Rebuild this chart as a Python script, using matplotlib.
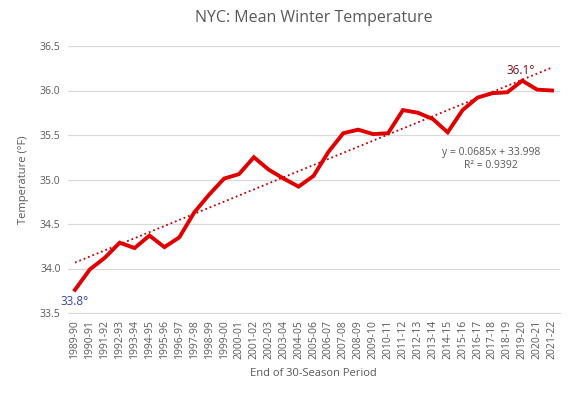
import matplotlib
matplotlib.use("Agg")
import matplotlib.pyplot as plt
import numpy as np

plt.rcParams['font.family'] = ['Open Sans', 'DejaVu Sans']

# seasons (end of 30-season period)
seasons = [f"{y}-{str(y + 1)[-2:]}" for y in range(1989, 2022)]
temps = [33.76, 33.99, 34.12, 34.29, 34.23, 34.37, 34.24, 34.35, 34.63, 34.83,
         35.01, 35.06, 35.25, 35.11, 35.01, 34.92, 35.04, 35.31, 35.52, 35.56,
         35.51, 35.52, 35.78, 35.75, 35.68, 35.53, 35.78, 35.92, 35.97, 35.98,
         36.11, 36.01, 36.00]
trend_slope = 0.0685
trend_icpt = 33.998
yticks = [33.5, 34.0, 34.5, 35.0, 35.5, 36.0, 36.5]

grey = '#595959'
fig = plt.figure(figsize=(5.72, 3.96), dpi=100)
ax = fig.add_axes([67.5 / 572, 83 / 396, 492 / 572, 267 / 396])

x = np.arange(len(temps))
ax.plot(x, temps, color='#E00000', lw=2.8, solid_joinstyle='miter', zorder=3)

# linear trendline (Excel numbering starts at 1)
xt = x + 1
ax.plot(x, trend_slope * xt + trend_icpt, color='#C00000', lw=1.3,
        linestyle=(0, (1, 1.6)), zorder=2)

ax.set_xlim(-0.5, len(temps) - 0.5)
ax.set_ylim(33.5, 36.5)
ax.set_yticks(yticks)
ax.set_yticklabels([f"{v:.1f}" for v in yticks])
ax.set_xticks(x)
ax.set_xticklabels(seasons, rotation=90)
ax.tick_params(axis='both', length=0, labelsize=7.5, colors=grey, pad=5)
ax.grid(axis='y', color='#D9D9D9', lw=0.9)
ax.set_axisbelow(True)
for s in ax.spines.values():
    s.set_visible(False)
ax.spines['bottom'].set_visible(True)
ax.spines['bottom'].set_color('#D9D9D9')

ax.set_title('NYC: Mean Winter Temperature', fontsize=11.5, color=grey, pad=17)
ax.set_xlabel('End of 30-Season Period', fontsize=8, color=grey, labelpad=6)
ax.set_ylabel('Temperature (°F)', fontsize=8, color=grey, labelpad=8)

ax.annotate(f"{temps[0]:.1f}°", (0, temps[0]), xytext=(0, -4),
            textcoords='offset points', ha='center', va='top',
            fontsize=8.5, color='#3344AA')
imax = int(np.argmax(temps))
ax.annotate(f"{temps[imax]:.1f}°", (imax, temps[imax]), xytext=(-1, 3),
            textcoords='offset points', ha='center', va='bottom',
            fontsize=8.5, color='#7A1020')

ax.text(27.9, 35.23, f"y = {trend_slope}x + {trend_icpt}\nR² = 0.9392",
        ha='center', va='center', fontsize=7.5, color=grey, linespacing=1.3)

fig.savefig('out.png', dpi=100)
